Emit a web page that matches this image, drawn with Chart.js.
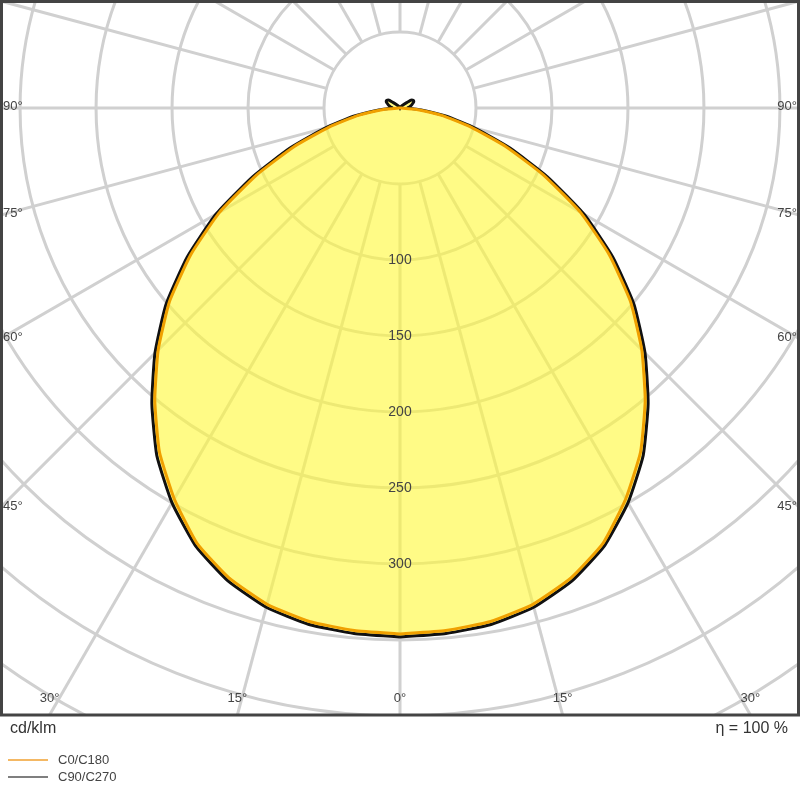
<!DOCTYPE html>
<html>
<head>
<meta charset="utf-8">
<script src="https://cdn.jsdelivr.net/npm/chart.js@4.4.1/dist/chart.umd.min.js"></script>
<style>
  html, body { margin: 0; padding: 0; background: #fff; }
  #wrap { width: 800px; height: 800px; }
</style>
</head>
<body>
<div id="wrap"><canvas id="polar"></canvas></div>
<script>
// gamma angles (deg) and luminous intensity in cd/klm
const angles   = [0, 5, 10, 15, 20, 25, 30, 35, 40, 45, 50, 55, 60, 65, 70, 75, 80, 85, 90, 95, 100, 105, 110, 115, 120, 125, 130, 140, 150, 165, 180];
const c0c180   = [346, 345, 343, 338, 329, 316, 297, 276, 251, 225, 198, 168, 137, 104, 74, 48, 28, 11, 1, 0, 0, 0, 0, 0, 0, 0, 0, 0, 0, 0, 0];
const c90c270  = [348, 347, 345, 340, 331, 318, 300, 279, 254, 228, 201, 171, 140, 107, 77, 51, 31, 14, 5, 6, 7, 8, 9, 10, 10, 9, 5, 2, 1, 0, 0];
const radii    = [50, 100, 150, 200, 250, 300, 350, 400, 450, 500];
const ringLabels = [100, 150, 200, 250, 300];
const sideLabels = [90, 75, 60, 45];
const bottomLabels = [-30, -15, 0, 15, 30];

// polar -> cartesian, right half then mirrored left half (closed loop)
function toPoints(vals) {
  const right = angles.map((a, i) => ({ x: vals[i] * Math.sin(a * Math.PI / 180), y: -vals[i] * Math.cos(a * Math.PI / 180) }));
  const left = right.slice().reverse().map(p => ({ x: -p.x, y: p.y }));
  return right.concat(left.slice(1));
}

const FONT = '"Liberation Sans", Arial, sans-serif';

const polarGrid = {
  id: 'polarGrid',
  beforeDatasetsDraw(chart) {
    const { ctx, chartArea: ca, scales: { x, y } } = chart;
    const cx = x.getPixelForValue(0), cy = y.getPixelForValue(0);
    const k = x.getPixelForValue(1) - cx;
    ctx.save();
    ctx.beginPath(); ctx.rect(ca.left, ca.top, ca.width, ca.height); ctx.clip();
    ctx.strokeStyle = '#d0d0d0'; ctx.lineWidth = 3;
    radii.forEach(r => { ctx.beginPath(); ctx.arc(cx, cy, r * k, 0, Math.PI * 2); ctx.stroke(); });
    for (let a = 0; a < 360; a += 15) {
      const t = a * Math.PI / 180;
      ctx.beginPath();
      ctx.moveTo(cx + 50 * k * Math.sin(t), cy + 50 * k * Math.cos(t));
      ctx.lineTo(cx + 1200 * Math.sin(t), cy + 1200 * Math.cos(t));
      ctx.stroke();
    }
    // yellow fill of the C90/C270 outline
    const pts = chart.getDatasetMeta(1).data;
    ctx.beginPath();
    pts.forEach((p, i) => i ? ctx.lineTo(p.x, p.y) : ctx.moveTo(p.x, p.y));
    ctx.closePath();
    ctx.fillStyle = 'rgba(255,248,60,0.62)';
    ctx.fill();
    ctx.restore();
  },
  afterDraw(chart) {
    const { ctx, chartArea: ca, scales: { x, y } } = chart;
    const cx = x.getPixelForValue(0), cy = y.getPixelForValue(0);
    ctx.save();
    ctx.fillStyle = '#444';
    ctx.font = '14px ' + FONT;
    ctx.textAlign = 'center'; ctx.textBaseline = 'middle';
    ringLabels.forEach(r => ctx.fillText(String(r), cx, y.getPixelForValue(-r)));
    ctx.font = '13px ' + FONT;
    ctx.textBaseline = 'bottom';
    sideLabels.forEach(a => {
      const py = cy + (cx - ca.left) / Math.tan(a * Math.PI / 180);
      ctx.textAlign = 'left'; ctx.fillText(a + '°', ca.left + 3, py + 5);
      ctx.textAlign = 'right'; ctx.fillText(a + '°', ca.right - 3, py + 5);
    });
    ctx.textAlign = 'center';
    bottomLabels.forEach(a => {
      const px = cx + (ca.bottom - cy) * Math.tan(a * Math.PI / 180);
      ctx.fillText(Math.abs(a) + '°', px, ca.bottom - 10);
    });
    // frame
    ctx.strokeStyle = '#444'; ctx.lineWidth = 3;
    ctx.strokeRect(ca.left + 1.5, ca.top + 1.5, ca.width - 3, ca.height - 1.5);
    // footer
    ctx.fillStyle = '#333';
    ctx.font = '16px ' + FONT; ctx.textBaseline = 'middle';
    ctx.textAlign = 'left'; ctx.fillText('cd/klm', 10, ca.bottom + 14);
    ctx.textAlign = 'right'; ctx.fillText('η = 100 %', 788, ca.bottom + 14);
    ctx.font = '13px ' + FONT; ctx.textAlign = 'left'; ctx.fillStyle = '#444';
    ctx.lineWidth = 1.5;
    ctx.strokeStyle = '#f0a030'; ctx.beginPath(); ctx.moveTo(8, 760); ctx.lineTo(48, 760); ctx.stroke();
    ctx.fillText('C0/C180', 58, 760);
    ctx.strokeStyle = '#555'; ctx.beginPath(); ctx.moveTo(8, 777); ctx.lineTo(48, 777); ctx.stroke();
    ctx.fillText('C90/C270', 58, 777);
    ctx.restore();
  }
};

new Chart(document.getElementById('polar'), {
  type: 'scatter',
  data: {
    datasets: [
      { label: 'C0/C180', data: toPoints(c0c180), showLine: true, borderColor: '#f0a000', borderWidth: 3, pointRadius: 0, tension: 0.15, fill: false },
      { label: 'C90/C270', data: toPoints(c90c270), showLine: true, borderColor: '#111', borderWidth: 3, pointRadius: 0, tension: 0.15, fill: false },
    ],
  },
  options: {
    responsive: true,
    maintainAspectRatio: false,
    animation: false,
    layout: { padding: { left: 0, right: 0, top: 0, bottom: 85 } },
    plugins: { legend: { display: false }, tooltip: { enabled: false } },
    scales: {
      x: { type: 'linear', display: false, min: -263.2, max: 263.2 },
      y: { type: 'linear', display: false, min: -399.3, max: 71.05 },
    },
  },
  plugins: [polarGrid],
});
</script>
</body>
</html>
